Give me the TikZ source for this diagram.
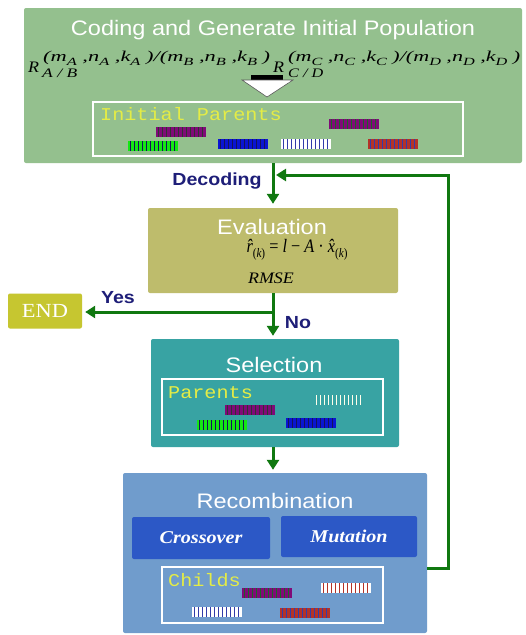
\documentclass[tikz,border=0pt]{standalone}
\usepackage{fontspec}
\usepackage{graphicx}
\setmainfont{Liberation Sans}
\newfontfamily\wsans[FakeStretch=1.12]{Liberation Sans}
\newfontfamily\wserif[FakeStretch=1.12]{Liberation Serif}
\newfontfamily\wmono[FakeStretch=1.12]{Liberation Mono}
\usetikzlibrary{arrows.meta,calc}
\definecolor{cgreen}{RGB}{148,192,142}
\definecolor{ceval}{RGB}{190,188,108}
\definecolor{cend}{RGB}{198,198,48}
\definecolor{csel}{RGB}{56,163,163}
\definecolor{crec}{RGB}{112,156,204}
\definecolor{cop}{RGB}{44,88,198}
\definecolor{carrow}{RGB}{16,120,16}
\definecolor{clabel}{RGB}{30,30,120}
\definecolor{cyel}{RGB}{228,236,70}
\definecolor{cpurple}{RGB}{128,10,120}
\definecolor{cgreenbar}{RGB}{20,230,20}
\definecolor{cbluebar}{RGB}{10,20,210}
\definecolor{credbar}{RGB}{180,50,40}
\definecolor{cnavy}{RGB}{20,20,90}
\definecolor{cstripeblue}{RGB}{50,60,170}
\definecolor{cdkgreen}{RGB}{30,100,40}
\newcommand\sbs[1]{\raisebox{-4pt}{\fontsize{11}{11}\selectfont #1}}
\newcommand\esbs[1]{\raisebox{-5pt}{\fontsize{13}{13}\selectfont #1}}
\newcommand\chromo[4]{%
  \fill[#3] (#1,#2) rectangle ++(50,10);
  \foreach \k in {0,...,11}{\fill[#4] ({#1+1.5+\k*4},#2) rectangle ++(1.6,10);}
}
\begin{document}
\begin{tikzpicture}[x=1pt,y=-1pt,
  stage/.style={rounded corners=2pt, inner sep=0pt},
  title/.style={text=white, font=\wsans\fontsize{21}{24}\selectfont, anchor=base, inner sep=0pt},
  flow/.style={draw=carrow, line width=3pt, -{Triangle[width=12pt,length=10pt]}},
  lbl/.style={text=clabel, font=\wsans\bfseries\fontsize{17.5}{20}\selectfont, inner sep=0pt},
  pool/.style={draw=white, line width=1.6pt, inner sep=0pt},
  mono/.style={text=cyel, font=\wmono\fontsize{18}{20}\selectfont, anchor=base west, inner sep=0pt},
  op/.style={fill=cop, text=white, font=\wserif\bfseries\itshape\fontsize{18}{20}\selectfont, rounded corners=2pt, inner sep=0pt},
  frm/.style={font=\wserif\itshape\fontsize{15}{18}\selectfont, anchor=base west, inner sep=0pt}
]
\useasboundingbox (0,0) rectangle (526,635);
\fill[white] (0,0) rectangle (526,635);

% stages
\node[stage, fill=cgreen, minimum width=498pt, minimum height=155pt] (coding) at (273,85.5) {};
\node[stage, fill=ceval, minimum width=250pt, minimum height=85pt] (eval) at (273,250.5) {};
\node[stage, fill=cend, minimum width=74pt, minimum height=35pt, text=white, font=\wserif\fontsize{20}{22}\selectfont] (endbox) at (45,311) {END};
\node[stage, fill=csel, minimum width=248pt, minimum height=108pt] (sel) at (275,393) {};
\node[stage, fill=crec, minimum width=304pt, minimum height=160pt] (rec) at (275,553) {};

% titles
\node[title] (tcoding) at (273,35) {Coding and Generate Initial Population};
\node[title] (teval) at (272,234) {Evaluation};
\node[title] (tsel) at (274,372) {Selection};
\node[title] (trec) at (275,508) {Recombination};

% formula in coding box
\node[frm, font=\wserif\itshape\fontsize{16}{18}\selectfont] (r1) at (28,72) {R};
\node[frm] (sup1) at (43,61) {\resizebox{227pt}{\height}{(m\sbs{A} ,n\sbs{A} ,k\sbs{A} )/(m\sbs{B} ,n\sbs{B} ,k\sbs{B} )}};
\node[frm, font=\wserif\itshape\fontsize{13}{15}\selectfont] (sub1) at (42,77) {\resizebox{35pt}{\height}{A / B}};
\node[frm, font=\wserif\itshape\fontsize{16}{18}\selectfont] (r2) at (273,72) {R};
\node[frm] (sup2) at (288,61) {\resizebox{232pt}{\height}{(m\sbs{C} ,n\sbs{C} ,k\sbs{C} )/(m\sbs{D} ,n\sbs{D} ,k\sbs{D} )}};
\node[frm, font=\wserif\itshape\fontsize{13}{15}\selectfont] (sub2) at (288,77) {\resizebox{35pt}{\height}{C / D}};

% hollow arrow
\fill[black] (251,75) rectangle (283,80);
\filldraw[fill=white, draw=gray!70!black, line width=0.6pt] (242,80) -- (293,80) -- (267,97) -- cycle;

% initial parents pool
\node[pool, minimum width=370pt, minimum height=54pt] (ipool) at (278,129) {};
\node[mono] (tip) at (100,120) {Initial Parents};
\chromo{156}{127}{cpurple}{black!80}
\chromo{329}{119}{cpurple}{cdkgreen}
\chromo{128}{141}{cgreenbar}{cnavy}
\chromo{218}{139}{cbluebar}{cnavy}
\chromo{281}{139}{white}{cstripeblue}
\chromo{368}{139}{credbar}{cstripeblue}

% evaluation content
\node[frm, anchor=base, font=\wserif\itshape\fontsize{19}{21}\selectfont] (feq) at (297,252)
  {\resizebox{101pt}{\height}{\^r\esbs{\upshape(\itshape k\upshape)} {\upshape =} l {\upshape −} A {\upshape ·} \^x\esbs{\upshape(\itshape k\upshape)}}};
\node[frm, anchor=base, font=\wserif\itshape\fontsize{16}{18}\selectfont] (rmse) at (271,283) {RMSE};

% selection content
\node[pool, minimum width=221pt, minimum height=56pt] (ppool) at (272.5,407) {};
\node[mono] (tpar) at (168,398) {Parents};
\chromo{314}{395}{csel}{white!92!yellow}
\chromo{225}{405}{cpurple}{black!80}
\chromo{197}{420}{cgreenbar}{cnavy}
\chromo{286}{418}{cbluebar}{cnavy}

% recombination content
\node[op, minimum width=138pt, minimum height=42pt] (cross) at (201,538) {Crossover};
\node[op, minimum width=136pt, minimum height=41pt] (mut) at (349,536.5) {Mutation};
\node[pool, minimum width=221pt, minimum height=56pt] (cpool) at (272.5,595) {};
\node[mono] (tch) at (168,586) {Childs};
\chromo{242}{588}{cpurple}{cdkgreen}
\chromo{321}{583}{white}{credbar}
\chromo{192}{607}{white}{cstripeblue}
\chromo{280}{608}{credbar}{cstripeblue}

% connectors
\coordinate (yes) at (273,312);
\coordinate (fb) at (276,175);
\draw[flow, shorten >=4pt] (coding.south) -- (eval.north);
\draw[flow, shorten >=3pt] (eval.south) -- (sel.north -| eval.south);
\draw[flow, shorten >=3pt] (yes) -- (endbox.east |- yes);
\draw[flow, shorten >=3pt] (sel.south -| eval.south) -- (rec.north -| eval.south);
\draw[flow] ([yshift=-15pt]rec.east) -- ++(21,0) |- (fb);

% labels
\node[lbl] (dec) at (217,181) {Decoding};
\node[lbl] (yeslbl) at (118,298) {Yes};
\node[lbl] (nolbl) at (298,323) {No};
\end{tikzpicture}
\end{document}
